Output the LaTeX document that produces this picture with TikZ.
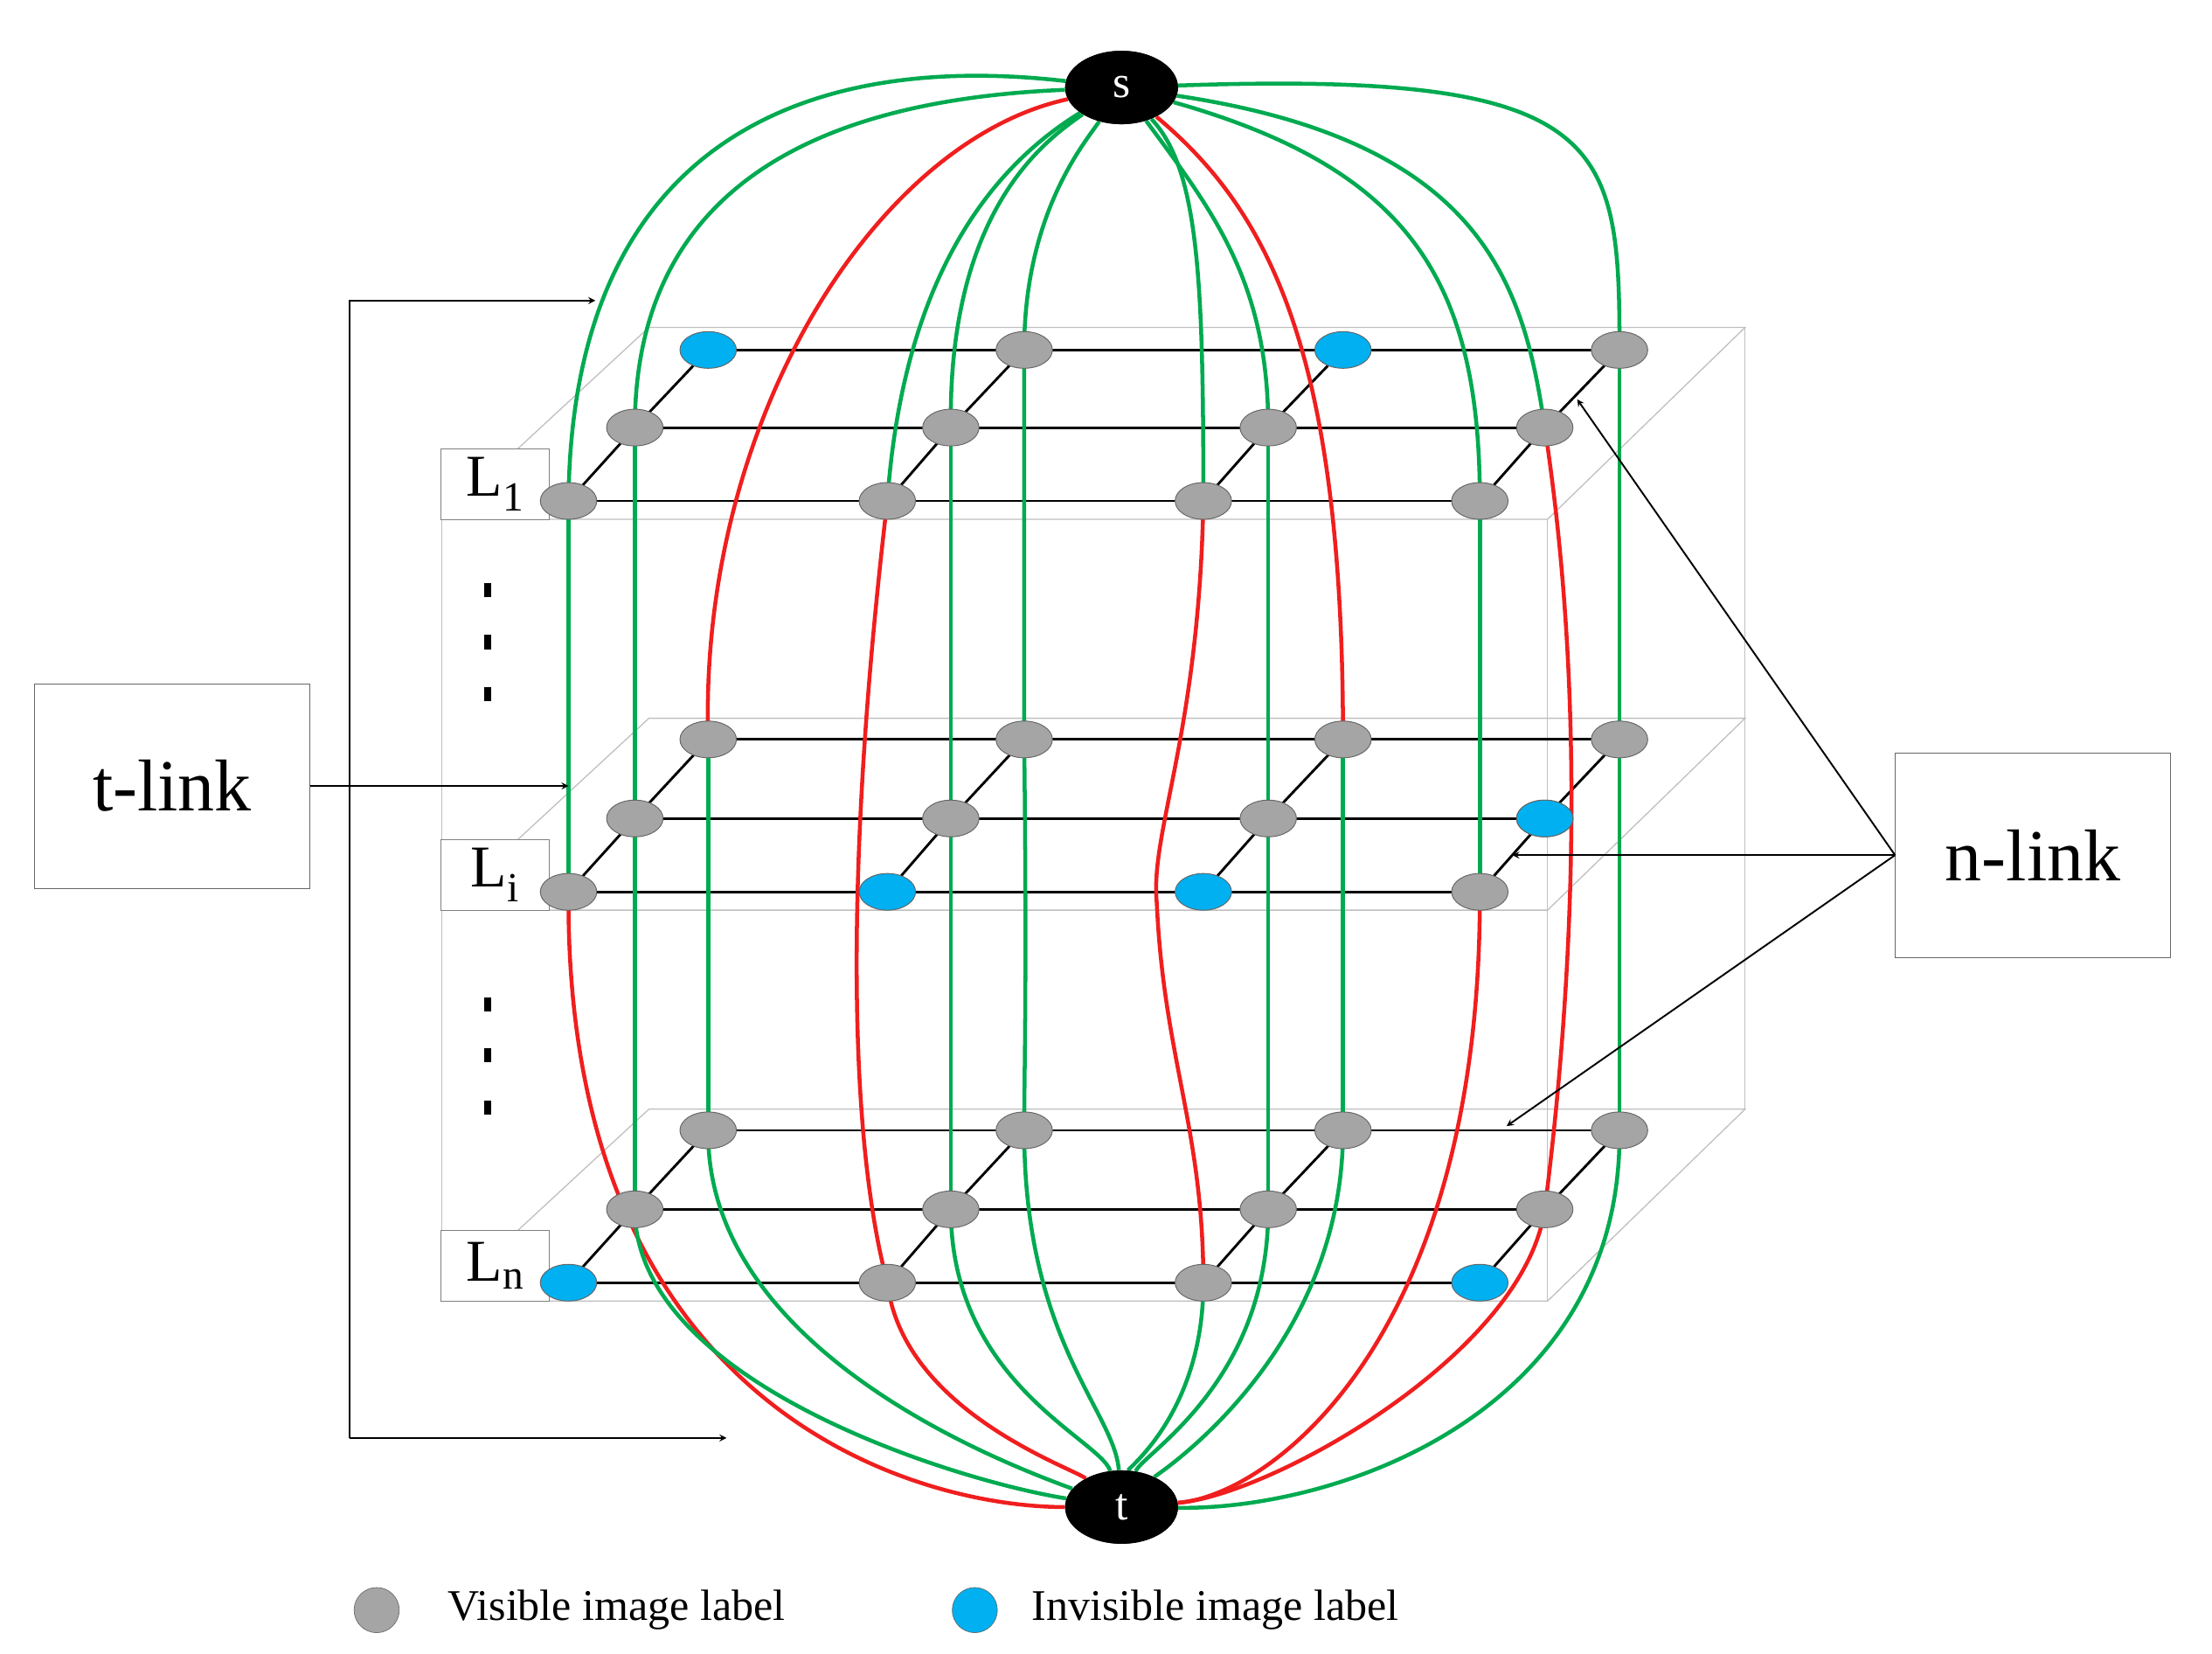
\documentclass[tikz,border=0pt]{standalone}
\usepackage{fontspec}
\setmainfont{Liberation Serif}
\usetikzlibrary{shapes.geometric}
\definecolor{gn}{RGB}{0,170,80}
\definecolor{rd}{RGB}{240,30,30}
\definecolor{vis}{RGB}{165,165,165}
\definecolor{inv}{RGB}{0,176,240}
\begin{document}
\begin{tikzpicture}[x=1pt,y=-1pt,
 nd/.style={ellipse,draw=black!60,line width=0.6pt,minimum width=40pt,minimum height=26pt,inner sep=0pt},
 v/.style={nd,fill=vis}, iv/.style={nd,fill=inv},
 st/.style={ellipse,fill=black,text=white,minimum width=80pt,minimum height=52pt,inner sep=0pt,font=\fontsize{32}{32}\selectfont},
 g/.style={gn,line width=2.8pt}, r/.style={rd,line width=2.8pt},
 plane/.style={draw=black!25,line width=0.8pt},
 lbl/.style={draw=black!50,fill=white,minimum width=77pt,minimum height=50pt,inner sep=0pt,font=\fontsize{42}{42}\selectfont},
 box/.style={draw=black!60,minimum width=195pt,minimum height=145pt,font=\fontsize{52}{52}\selectfont},
 ar/.style={->,>=stealth,line width=1.2pt},
 ln/.style={line width=1.8pt}]
\useasboundingbox (0,0) rectangle (1568,1172);
% planes
\foreach \yf/\yb in {368/232,645/509,922/786}{
 \draw[plane] (313,\yf) -- (1097,\yf) -- (1237,\yb) -- (460,\yb) -- cycle;}
\draw[plane] (313,368) -- (313,922);
\draw[plane] (1097,368) -- (1097,922);
\draw[plane] (1237,232) -- (1237,786);
% labels
\node[lbl] (L1) at (351,343) {L\textsubscript{1}};
\node[lbl] (Li) at (351,620) {L\textsubscript{i}};
\node[lbl] (Ln) at (351,897) {L\textsubscript{n}};
\foreach \y in {418,455,492,712,748,785}{\fill (343,\y-5) rectangle (348,\y+5);}
% coordinates for grid
\foreach \l/\yb/\ym/\yf in {1/248/303/355, i/524/580/632, n/801/857/909}{
 \foreach \k/\xb/\xm/\xf in {1/502/450/403, 2/726/674/629, 3/952/899/853, 4/1148/1095/1049}{
  \coordinate (b\l\k) at (\xb,\yb); \coordinate (m\l\k) at (\xm,\ym); \coordinate (f\l\k) at (\xf,\yf);}
 \draw[ln] (b\l1) -- (b\l4); \draw[ln] (m\l1) -- (m\l4); \draw[ln] (f\l1) -- (f\l4);
 \foreach \k in {1,2,3,4}{\draw[ln] (f\l\k) -- (m\l\k) -- (b\l\k);}
}
\node[st] (s) at (795,62) {s};
\node[st] (t) at (795,1068) {t};
% curves from s
\draw[g] (s) .. controls (560,35) and (405,110) .. (f11);
\draw[g] (s) .. controls (600,70) and (450,120) .. (m11);
\draw[r] (s) .. controls (620,100) and (495,300) .. (bi1);
\draw[g] (s) .. controls (700,120) and (640,200) .. (f12);
\draw[g] (s) .. controls (740,100) and (672,150) .. (m12);
\draw[g] (s) .. controls (770,100) and (726,150) .. (b12);
\draw[g] (s) .. controls (850,120) and (853,200) .. (f13);
\draw[g] (s) .. controls (860,150) and (899,200) .. (m13);
\draw[r] (s) .. controls (900,150) and (952,250) .. (bi3);
\draw[g] (s) .. controls (1000,120) and (1049,200) .. (f14);
\draw[g] (s) .. controls (1050,100) and (1080,200) .. (m14);
\draw[g] (s) .. controls (1140,50) and (1148,100) .. (b14);
% verticals and to t
\draw[g] (f11) -- (fi1);
\draw[r] (fi1) .. controls (400,1000) and (650,1068) .. (t);
\draw[g] (m11) -- (mn1);
\draw[g] (mn1) .. controls (450,980) and (680,1050) .. (t);
\draw[g] (bi1) -- (bn1);
\draw[g] (bn1) .. controls (500,960) and (720,1040) .. (t);
\draw[r] (f12) .. controls (600,600) and (600,800) .. (fn2);
\draw[r] (fn2) .. controls (640,1000) and (760,1040) .. (t);
\draw[g] (m12) -- (mn2);
\draw[g] (mn2) .. controls (674,980) and (780,1020) .. (t);
\draw[g] (b12) -- (bi2) .. controls (728,700) and (726,760) .. (bn2);
\draw[g] (bn2) .. controls (726,950) and (790,1000) .. (t);
\draw[r] (f13) .. controls (850,520) and (815,590) .. (820,640) .. controls (825,750) and (853,800) .. (fn3);
\draw[g] (fn3) .. controls (853,1000) and (800,1040) .. (t);
\draw[g] (m13) -- (mn3);
\draw[g] (mn3) .. controls (899,980) and (810,1030) .. (t);
\draw[g] (bi3) -- (bn3);
\draw[g] (bn3) .. controls (952,960) and (820,1045) .. (t);
\draw[g] (f14) -- (fi4);
\draw[r] (fi4) .. controls (1050,950) and (900,1060) .. (t);
\draw[r] (m14) .. controls (1125,500) and (1115,700) .. (mn4);
\draw[r] (mn4) .. controls (1080,960) and (900,1060) .. (t);
\draw[g] (b14) -- (bn4);
\draw[g] (bn4) .. controls (1150,1000) and (950,1070) .. (t);
\node[st] at (795,62) {s};
\node[st] at (795,1068) {t};
% nodes
\foreach \l in {1,i,n}{\foreach \k in {1,2,3,4}{
 \node[v] (M\l\k) at (m\l\k) {};}}
\node[iv] at (b11) {}; \node[v] at (b12) {}; \node[iv] at (b13) {}; \node[v] at (b14) {};
\foreach \k in {1,2,3,4}{\node[v] at (f1\k) {}; \node[v] at (bi\k) {}; \node[v] at (bn\k) {};}
\node[iv] at (mi4) {};
\node[v] at (fi1) {}; \node[iv] at (fi2) {}; \node[iv] at (fi3) {}; \node[v] at (fi4) {};
\node[iv] at (fn1) {}; \node[v] at (fn2) {}; \node[v] at (fn3) {}; \node[iv] at (fn4) {};
% link boxes
\node[box] (tl) at (122,557) {t-link};
\node[box] (nl) at (1441,606) {n-link};
\coordinate (ta) at (403,557);
\coordinate (tb) at (422,213);
\coordinate (tc) at (515,1019);
\draw[ar] (tl.east) -- (ta);
\draw[ar] (248,1019) -- (248,213) -- (tb);
\draw[ar] (248,1019) -- (tc);
\coordinate (na) at (1118,283);
\coordinate (nb) at (1072,606);
\coordinate (nc) at (1068,798);
\draw[ar] (nl.west) -- (na);
\draw[ar] (nl.west) -- (nb);
\draw[ar] (nl.west) -- (nc);
% legend
\node[circle,draw=black!60,fill=vis,minimum size=32pt,inner sep=0pt] (lg1) at (267,1141) {};
\node[anchor=west,font=\fontsize{31}{31}\selectfont] (lt1) at (314,1141) {Visible image label};
\node[circle,draw=black!60,fill=inv,minimum size=32pt,inner sep=0pt] (lg2) at (691,1141) {};
\node[anchor=west,font=\fontsize{31}{31}\selectfont] (lt2) at (728,1141) {Invisible image label};
\end{tikzpicture}
\end{document}
